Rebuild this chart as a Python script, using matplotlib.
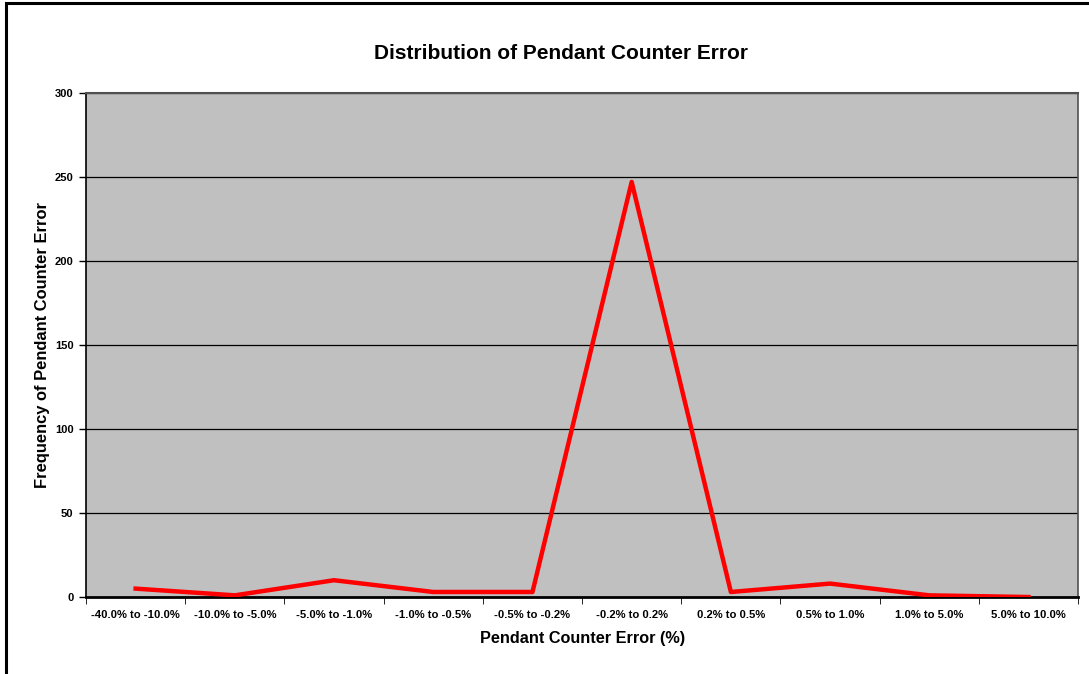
import matplotlib
matplotlib.use("Agg")
import matplotlib.pyplot as plt
from matplotlib.patches import Rectangle

categories = ['-40.0% to -10.0%', '-10.0% to -5.0%', '-5.0% to -1.0%', '-1.0% to -0.5%',
              '-0.5% to -0.2%', '-0.2% to 0.2%', '0.2% to 0.5%', '0.5% to 1.0%',
              '1.0% to 5.0%', '5.0% to 10.0%']
frequency = [5, 1, 10, 3, 3, 247, 3, 8, 1, 0]
y_ticks = [0, 50, 100, 150, 200, 250, 300]

plt.rcParams['font.family'] = ['Liberation Sans', 'DejaVu Sans']

fig = plt.figure(figsize=(10.89, 6.74), dpi=100)
ax = fig.add_axes([0.079, 0.1142, 0.911, 0.748])
ax.set_facecolor('#C0C0C0')

# outer chart border (bottom and right run off the image)
fig.patches.append(Rectangle((6 / 1089, -0.05), 1.2, (674 - 3) / 674 + 0.05,
                             transform=fig.transFigure, fill=False,
                             edgecolor='black', linewidth=2.2, clip_on=False))

x = list(range(len(categories)))
ax.plot(x, frequency, color='#FF0000', linewidth=3.2, solid_joinstyle='round', zorder=3)

ax.set_xlim(-0.5, len(categories) - 0.5)
ax.set_ylim(0, 300)
ax.set_yticks(y_ticks)
ax.set_yticklabels([str(v) for v in y_ticks], fontsize=8, fontweight='bold')
ax.set_xticks(x)
ax.set_xticklabels(categories, fontsize=8.1, fontweight='bold')
ax.tick_params(axis='x', length=0, pad=9)
ax.set_xticks([i + 0.5 for i in range(-1, len(categories))], minor=True)
ax.tick_params(axis='x', which='minor', length=5, direction='out', color='black')
ax.tick_params(axis='y', length=5, direction='out', width=1, pad=4)

for v in y_ticks[1:]:
    ax.axhline(v, color='black', linewidth=0.9, zorder=1)

ax.spines['left'].set_color('black')
ax.spines['left'].set_linewidth(1.2)
ax.spines['bottom'].set_color('black')
ax.spines['bottom'].set_linewidth(2)
ax.spines['top'].set_color('#505050')
ax.spines['top'].set_linewidth(1.5)
ax.spines['right'].set_color('#505050')
ax.spines['right'].set_linewidth(1.2)

ax.set_xlabel('Pendant Counter Error (%)', fontsize=11.7, fontweight='bold', labelpad=8)
ax.set_ylabel('Frequency of Pendant Counter Error', fontsize=11.9, fontweight='bold')
ax.yaxis.set_label_coords(-0.036, 0.5)
fig.text(0.515, 0.921, 'Distribution of Pendant Counter Error', ha='center', va='center',
         fontsize=15, fontweight='bold')

fig.savefig('out.png', dpi=100)
